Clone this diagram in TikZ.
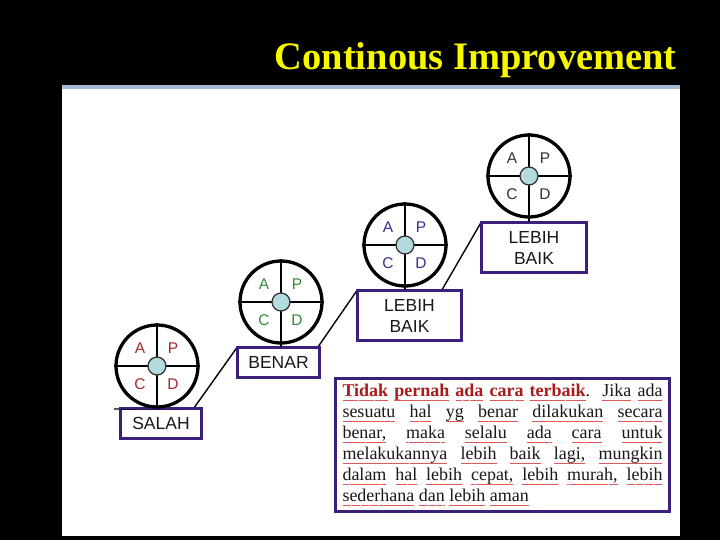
\documentclass[tikz,border=0pt]{standalone}
\usepackage{fontspec}
\setmainfont{Liberation Serif}
\newfontfamily\labelfont{Liberation Sans}
\usepackage{graphicx}
\definecolor{titleyellow}{HTML}{F7F700}
\definecolor{barblue}{HTML}{A4BBD8}
\definecolor{boxpurple}{HTML}{3B1F7A}
\definecolor{hubblue}{HTML}{B3DBDF}
\definecolor{spellred}{HTML}{E05858}
\definecolor{textred}{HTML}{A81C1C}
\definecolor{lettred}{HTML}{A52828}
\definecolor{lettgreen}{HTML}{3A8A3A}
\definecolor{lettpurple}{HTML}{3F2C8E}
\definecolor{lettgray}{HTML}{333333}
\newsavebox\wvbox
\newcommand\wavepiece{\hbox{\rule[-4.1pt]{1.1pt}{0.55pt}\rule[-3.5pt]{1.1pt}{0.55pt}}}
\newcommand\wv[1]{\sbox\wvbox{#1}\rlap{\hbox to \wd\wvbox{\color{spellred}\xleaders\wavepiece\hfil}}\usebox\wvbox}
\newcommand\pdcawheel[4]{%
  \node[wheel] (#1) at (#2,#3) {};
  \draw[spoke] (#1.west) -- (#1.east);
  \node[lett, text=#4] (#1a) at ([shift={(-17,-18)}]#1.center) {A};
  \node[lett, text=#4] (#1p) at ([shift={(16,-18)}]#1.center) {P};
  \node[lett, text=#4] (#1c) at ([shift={(-17,18)}]#1.center) {C};
  \node[lett, text=#4] (#1d) at ([shift={(16,18)}]#1.center) {D};
}
\begin{document}
\begin{tikzpicture}[x=1pt,y=-1pt,
  wheel/.style={circle, draw=black, line width=3.3pt, minimum size=82pt, inner sep=0pt},
  spoke/.style={draw=black, line width=1.8pt},
  hub/.style={circle, draw=black!80, line width=1.3pt, fill=hubblue, minimum size=18pt, inner sep=0pt},
  lett/.style={font=\labelfont\fontsize{15.5}{17}\selectfont, inner sep=0pt},
  stepbox/.style={draw=boxpurple, line width=1.6pt, fill=white, align=center, inner sep=0pt,
    font=\labelfont\fontsize{17.5}{21}\selectfont, text=black!90},
  stair/.style={draw=black, line width=1.4pt}]
\useasboundingbox (0,0) rectangle (720,540);
\fill[black] (0,0) rectangle (720,540);
\fill[white] (62,89) rectangle (680,536);
\fill[barblue] (62,85) rectangle (680,89);
\node[anchor=base east, inner sep=0pt, text=titleyellow] (title) at (677,70)
  {\resizebox{402pt}{27pt}{\bfseries Continous Improvement}};
% stair line
\coordinate (g0) at (114,409);
\node[stepbox, minimum width=80pt, minimum height=29pt] (s1) at (161,423.5) {SALAH};
\node[stepbox, minimum width=81pt, minimum height=29pt] (s2) at (278.5,362.5) {BENAR};
\node[stepbox, minimum width=103pt, minimum height=49pt] (s3) at (409.5,315.5) {LEBIH\\BAIK};
\node[stepbox, minimum width=104pt, minimum height=49pt] (s4) at (534,247.5) {LEBIH\\BAIK};
\draw[stair] (g0) -- ([xshift=-8pt]s1.north east) -- (s2.north west)
  -- ([xshift=-2pt]s2.north east) -- (s3.north west)
  -- ([xshift=-20pt]s3.north east) -- (s4.north west);
\foreach \b in {s1,s2,s3,s4} {\draw[draw=boxpurple, line width=1.6pt] (\b.north west) rectangle (\b.south east);}
% wheels
\pdcawheel{w1}{157}{366}{lettred}
\pdcawheel{w2}{281}{302}{lettgreen}
\pdcawheel{w3}{405}{245}{lettpurple}
\pdcawheel{w4}{529}{176}{lettgray}
\draw[spoke] (w1.north) -- (w1.north |- s1.north);
\draw[spoke] (w2.north) -- (w2.north |- s2.north);
\draw[spoke] (w3.north) -- (w3.north |- s3.north);
\draw[spoke] (w4.north) -- (w4.north |- s4.north);
\node[hub] (w1h) at (w1) {};
\node[hub] (w2h) at (w2) {};
\node[hub] (w3h) at (w3) {};
\node[hub] (w4h) at (w4) {};
% text box
\node[draw=boxpurple, line width=3pt, fill=white, anchor=north west,
  text width=320pt, inner xsep=7pt, inner ysep=0pt, minimum height=133pt, align=justify,
  font=\fontsize{18}{21}\selectfont, text=black!90] (note) at (334,377)
{{\bfseries\color{textred}\wv{Tidak} \wv{pernah} \wv{ada} \wv{cara} \wv{terbaik}}.\ \ \wv{Jika} \wv{ada}\linebreak
\wv{sesuatu} \wv{hal} \wv{yg} \wv{benar} \wv{dilakukan} \wv{secara}\linebreak
\wv{benar,} \wv{maka} \wv{selalu} \wv{ada} \wv{cara} \wv{untuk}\linebreak
\wv{melakukannya} \wv{lebih} \wv{baik} \wv{lagi,} \wv{mungkin}\linebreak
\wv{dalam} \wv{hal} \wv{lebih} \wv{cepat,} \wv{lebih} \wv{murah,} \wv{lebih}\linebreak
\wv{sederhana} \wv{dan} \wv{lebih} \wv{aman}};
\end{tikzpicture}
\end{document}
